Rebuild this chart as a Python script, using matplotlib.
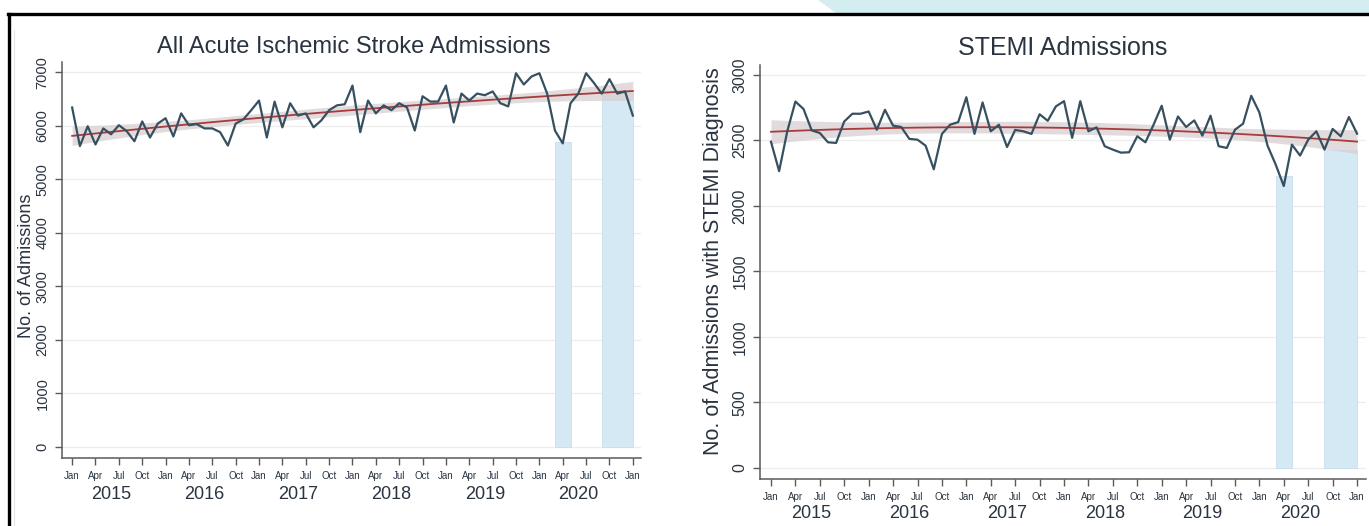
import numpy as np
import matplotlib
matplotlib.use("Agg")
import matplotlib.pyplot as plt
from matplotlib.lines import Line2D
from matplotlib.patches import Polygon
from matplotlib.transforms import blended_transform_factory

# Monthly admissions, Jan 2015 .. Jan 2021
stroke = [
    6340, 5620, 5990, 5650, 5950, 5840, 6010, 5900, 5710, 6080, 5780, 6040,
    6140, 5800, 6230, 6010, 6030, 5950, 5950, 5880, 5630, 6040, 6120, 6290,
    6470, 5780, 6450, 5970, 6420, 6190, 6230, 5970, 6100, 6290, 6380, 6400,
    6750, 5880, 6470, 6230, 6380, 6290, 6420, 6340, 5910, 6550, 6450, 6450,
    6750, 6060, 6600, 6470, 6600, 6570, 6640, 6420, 6360, 6980, 6770, 6920,
    6980, 6600, 5910, 5670, 6420, 6600, 6980, 6800, 6600, 6870, 6600, 6640,
    6190,
]
stemi = [
    2490, 2266, 2570, 2797, 2740, 2577, 2557, 2486, 2481, 2645, 2704, 2704,
    2721, 2582, 2734, 2613, 2603, 2512, 2506, 2460, 2280, 2550, 2620, 2640,
    2830, 2550, 2790, 2570, 2620, 2450, 2580, 2570, 2550, 2700, 2650, 2760,
    2800, 2520, 2800, 2570, 2600, 2456, 2430, 2407, 2410, 2532, 2486, 2620,
    2765, 2506, 2683, 2603, 2653, 2537, 2689, 2456, 2443, 2582, 2628, 2841,
    2714, 2461, 2317, 2152, 2468, 2385, 2506, 2570, 2430, 2588, 2532, 2679,
    2552,
]
month_names = ["Jan", "Apr", "Jul", "Oct"]
years = [2015, 2016, 2017, 2018, 2019, 2020]

# Shaded periods (month index from Jan 2015) and their heights
shade_start = [62, 68]
shade_end = [64, 72]
stroke_shade_top = [5700, 6650]
stemi_shade_top = [2230, 2430]

titles = ["All Acute Ischemic Stroke Admissions", "STEMI Admissions"]
ylabels = ["No. of Admissions", "No. of Admissions with STEMI Diagnosis"]

LINE = "#37505f"
TREND = "#a83a3c"
BAND = "#d6cdcf"
SHADE = "#d5e9f4"
SPINE = "#5a5a5a"
TEXT = "#2a3440"
NARROW = ["Liberation Sans Narrow", "Liberation Sans", "DejaVu Sans"]
SANS = ["Liberation Sans", "DejaVu Sans"]


def quad_fit(y):
    y = np.asarray(y, float)
    t = np.arange(len(y), dtype=float)
    X = np.column_stack([np.ones_like(t), t, t ** 2])
    beta, *_ = np.linalg.lstsq(X, y, rcond=None)
    fit = X @ beta
    s2 = np.sum((y - fit) ** 2) / (len(y) - 3)
    cov = s2 * np.linalg.inv(X.T @ X)
    se = np.sqrt(np.einsum("ij,jk,ik->i", X, cov, X))
    return t, fit, fit - 1.993 * se, fit + 1.993 * se


fig = plt.figure(figsize=(13.69, 5.26), dpi=100)


def panel(rect, y, shade_top, ylim, yticks, ytick_fs, title, title_xy,
          title_fs, ylabel, ylabel_xy, ylabel_fs, month_fs, year_fs,
          month_off, year_off, xlim):
    ax = fig.add_axes(rect)
    t = np.arange(len(y))
    for s, e, h in zip(shade_start, shade_end, shade_top):
        ax.bar((s + e) / 2, h, width=e - s, color=SHADE, edgecolor="#c8dfec",
               linewidth=0.6, zorder=1)
    tt, fit, lo, hi = quad_fit(y)
    ax.fill_between(tt, lo, hi, color=BAND, alpha=0.7, linewidth=0, zorder=2)
    ax.plot(tt, fit, color=TREND, lw=1.3, zorder=3)
    ax.plot(t, y, color=LINE, lw=1.6, zorder=4)

    ax.set_xlim(*xlim)
    ax.set_ylim(*ylim)
    ax.set_yticks(yticks)
    ax.set_yticklabels([str(v) for v in yticks], rotation=90, va="center",
                       fontsize=ytick_fs, color=TEXT, family=SANS)
    ax.yaxis.grid(True, color="#ededed", lw=0.9, zorder=0)
    ax.set_axisbelow(True)

    xt = np.arange(0, len(y), 3)
    ax.set_xticks(xt)
    ax.set_xticklabels([month_names[i % 4] for i in range(len(xt))],
                       fontsize=month_fs, color=TEXT, family=NARROW)
    ax.tick_params(axis="x", length=5, width=1, color=SPINE, pad=month_off)
    ax.tick_params(axis="y", length=5, width=1, color=SPINE, pad=4)
    trans = blended_transform_factory(ax.transData, ax.transAxes)
    for k, yr in enumerate(years):
        ax.annotate(str(yr), xy=(12 * k + 5, 0), xycoords=trans,
                    xytext=(0, -year_off), textcoords="offset points",
                    ha="center", va="center", fontsize=year_fs, color=TEXT,
                    family=NARROW)

    for side in ("top", "right"):
        ax.spines[side].set_visible(False)
    for side in ("left", "bottom"):
        ax.spines[side].set_color(SPINE)
        ax.spines[side].set_linewidth(1.1)

    fig.text(title_xy[0], title_xy[1], title, ha="center", va="center",
             fontsize=title_fs, color=TEXT, family=SANS)
    fig.text(ylabel_xy[0], ylabel_xy[1], ylabel, ha="center", va="center",
             rotation=90, fontsize=ylabel_fs, color=TEXT, family=SANS)
    return ax


panel([62 / 1369, 1 - 458 / 526, 579 / 1369, 396 / 526], stroke,
      stroke_shade_top, (-205, 7190), list(range(0, 7001, 1000)), 10.5,
      titles[0], (354 / 1369, 1 - 47 / 526), 17,
      ylabels[0], (27 / 1369, 1 - 266 / 526), 13,
      7, 13, 4.5, 26, (-1.3, 73.05))

panel([760 / 1369, 1 - 479 / 526, 606 / 1369, 414 / 526], stemi,
      stemi_shade_top, (-84, 3076), list(range(0, 3001, 500)), 11.5,
      titles[1], (1063 / 1369, 1 - 48 / 526), 18,
      ylabels[1], (713 / 1369, 1 - 261 / 526), 15.5,
      7, 13, 4.5, 25, (-1.35, 73.1))

# page frame and decorative strip
fig.add_artist(Polygon([[818 / 1369, 1], [836 / 1369, 1 - 13 / 526],
                        [1, 1 - 13 / 526], [1, 1]], closed=True,
                       transform=fig.transFigure, facecolor="#d4edf0",
                       edgecolor="none"))
fig.add_artist(Line2D([8 / 1369, 1], [1 - 14 / 526, 1 - 14 / 526],
                      transform=fig.transFigure, color="black", lw=2.4))
fig.add_artist(Line2D([9 / 1369, 9 / 1369], [0, 1 - 14 / 526],
                      transform=fig.transFigure, color="black", lw=2.4))
fig.add_artist(Line2D([14 / 1369, 14 / 1369], [0, 1 - 30 / 526],
                      transform=fig.transFigure, color="#e2e2e2", lw=0.8))

fig.savefig("out.png", dpi=100, facecolor="white")
